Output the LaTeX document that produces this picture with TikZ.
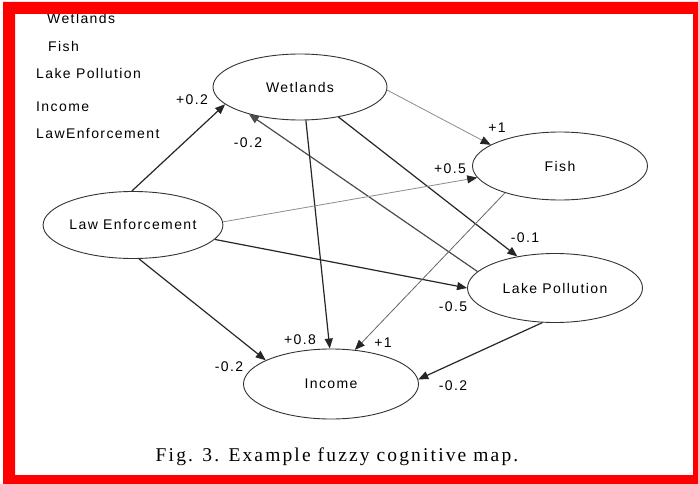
\documentclass[tikz,border=0pt]{standalone}
\usepackage{fontspec}
\setmainfont{Liberation Sans}[LetterSpace=10]
\newfontfamily\capfont{Liberation Serif}[LetterSpace=11]
\usetikzlibrary{shapes.geometric,arrows.meta}
\begin{document}
\begin{tikzpicture}[x=1pt,y=-1pt,
  concept/.style={ellipse,draw=black!80,line width=0.9pt,minimum width=175pt,minimum height=67pt,inner sep=0pt,font=\fontsize{14}{16}\selectfont},
  wt/.style={font=\fontsize{14}{16}\selectfont,inner sep=0pt},
  leg/.style={font=\fontsize{14}{16}\selectfont,inner sep=0pt,anchor=west},
  link/.style={draw=black!85,line width=1.2pt,-{Triangle[length=10pt,width=8pt]}},
  faint/.style={draw=black!45,line width=0.8pt,-{Triangle[length=10pt,width=8pt,color=black!85]}},
]
\useasboundingbox (0,0) rectangle (698,484);
\fill[white] (0,0) rectangle (698,484);

% legend
\node[leg] (l1) at (47,18) {Wetlands};
\node[leg] (l2) at (48,46) {Fish};
\node[leg] (l3) at (36,73) {Lake Pollution};
\node[leg] (l4) at (36,107) {Income};
\node[leg] (l5) at (36,134) {LawEnforcement};

% concepts
\node[concept,minimum width=174pt,minimum height=66pt] (w) at (300,87) {Wetlands};
\node[concept,minimum height=68pt] (f) at (560,166) {Fish};
\node[concept,minimum height=69pt] (lp) at (555,288) {Lake Pollution};
\node[concept,minimum height=70pt] (in) at (331,384) {Income};
\node[concept] (le) at (133,225) {Law Enforcement};

% connectors
\draw[link] (le.92) -- (w.193);
\draw[faint] (w.358) -- (f.163);
\draw[link,draw=black!70] (lp.168) -- (w.208);
\draw[link] (w.280) -- (in.92);
\draw[link] (w.322) -- (lp.140);
\draw[faint] (le.2) -- (f.188);
\draw[link] (le.350) -- (lp.180);
\draw[link] (le.280) -- (in.160);
\draw[faint,draw=black!60] (f.206) -- (in.55);
\draw[link] (lp.250) -- (in.3);

% weights
\node[wt] (a1) at (192,100) {+0.2};
\node[wt] (a2) at (497,128) {+1};
\node[wt] (a3) at (248,143) {-0.2};
\node[wt] (a4) at (450,169) {+0.5};
\node[wt] (a5) at (525,238) {-0.1};
\node[wt] (a6) at (453,307) {-0.5};
\node[wt] (a7) at (300,340) {+0.8};
\node[wt] (a8) at (383,343) {+1};
\node[wt] (a9) at (229,367) {-0.2};
\node[wt] (a10) at (453,386) {-0.2};

% caption
\node[inner sep=0pt,font=\capfont\fontsize{19.5}{21}\selectfont] (cap) at (337,457) {Fig. 3. Example fuzzy cognitive map.};

% frame
\fill[red,even odd rule] (3,2) rectangle (698,484) (15,14) rectangle (693,475);
\end{tikzpicture}
\end{document}
